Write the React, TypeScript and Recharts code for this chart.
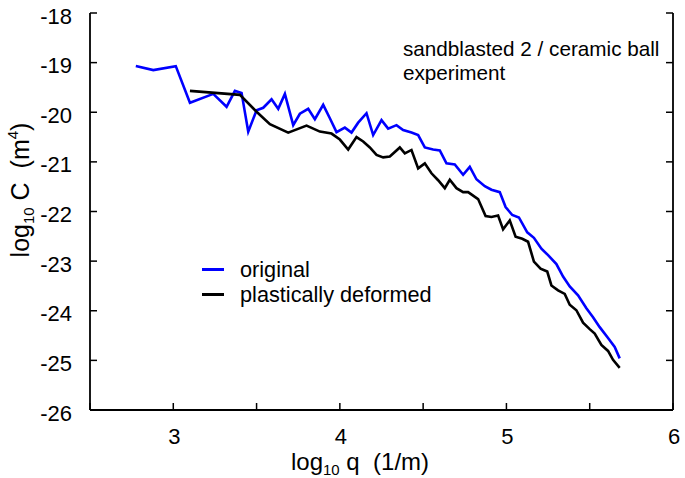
import React from "react";
import { LineChart, Line, XAxis, YAxis } from "recharts";

const originalX = [2.775, 2.88, 3.015, 3.1, 3.24, 3.32, 3.37, 3.41, 3.45, 3.5, 3.54, 3.59, 3.63, 3.67, 3.72, 3.76, 3.81, 3.85, 3.9, 3.94, 3.98, 4.03, 4.07, 4.11, 4.16, 4.2, 4.25, 4.29, 4.34, 4.38, 4.43, 4.47, 4.51, 4.56, 4.6, 4.64, 4.69, 4.74, 4.78, 4.82, 4.87, 4.91, 4.96, 4.995, 5.035, 5.075, 5.125, 5.165, 5.21, 5.25, 5.3, 5.34, 5.38, 5.43, 5.48, 5.52, 5.56, 5.61, 5.65, 5.68];
const originalY = [-19.07, -19.15, -19.07, -19.81, -19.63, -19.89, -19.57, -19.61, -20.39, -19.96, -19.91, -19.74, -19.93, -19.63, -20.26, -20.03, -19.93, -20.14, -19.85, -20.12, -20.4, -20.31, -20.41, -20.21, -20.02, -20.46, -20.16, -20.33, -20.26, -20.36, -20.41, -20.46, -20.71, -20.75, -20.77, -21.03, -21.05, -21.26, -21.1, -21.35, -21.49, -21.56, -21.61, -21.91, -22.07, -22.12, -22.42, -22.53, -22.75, -22.88, -23.06, -23.31, -23.51, -23.69, -23.95, -24.13, -24.33, -24.55, -24.73, -24.96];

const deformedX = [3.1, 3.4, 3.5, 3.58, 3.69, 3.8, 3.88, 3.95, 4.0, 4.05, 4.1, 4.14, 4.18, 4.22, 4.26, 4.3, 4.36, 4.39, 4.43, 4.47, 4.51, 4.55, 4.59, 4.63, 4.66, 4.7, 4.74, 4.77, 4.83, 4.875, 4.91, 4.95, 4.98, 5.02, 5.055, 5.095, 5.13, 5.165, 5.205, 5.245, 5.27, 5.31, 5.35, 5.38, 5.42, 5.46, 5.5, 5.53, 5.57, 5.61, 5.64, 5.68];
const deformedY = [-19.57, -19.65, -19.99, -20.24, -20.41, -20.27, -20.39, -20.43, -20.55, -20.75, -20.5, -20.59, -20.71, -20.86, -20.91, -20.89, -20.71, -20.83, -20.76, -21.13, -21.03, -21.23, -21.37, -21.53, -21.36, -21.53, -21.61, -21.61, -21.75, -22.09, -22.11, -22.08, -22.36, -22.18, -22.51, -22.55, -22.61, -23.01, -23.15, -23.21, -23.49, -23.59, -23.66, -23.88, -23.99, -24.24, -24.37, -24.46, -24.69, -24.81, -24.99, -25.15];

const xTicks = [2.5, 3, 3.5, 4, 4.5, 5, 5.5, 6];
const xLabelTicks = [3, 4, 5, 6];
const yTicks = [-26, -25, -24, -23, -22, -21, -20, -19, -18];

const seriesNames = ["original", "plastically deformed"];
const seriesColors = ["#0000ff", "#000000"];
const annotation = ["sandblasted 2 / ceramic ball", "experiment"];

const originalData = originalX.map((x, i) => ({ x, y: originalY[i] }));
const deformedData = deformedX.map((x, i) => ({ x, y: deformedY[i] }));

const FONT = "'Liberation Sans', Arial, Helvetica, sans-serif";
const TICK_LEN = 7;
const AXIS_W = 1.8;

const BottomTick = (props: any) => {
  const { x, y, payload } = props;
  const v = payload.value;
  return (
    <g>
      <line x1={x} x2={x} y1={y} y2={y - TICK_LEN} stroke="#000" strokeWidth={1.5} />
      {xLabelTicks.includes(v) && (
        <text x={x + 1} y={y + 26} textAnchor="middle" dominantBaseline="central" fontSize={22} fontFamily={FONT} fill="#000">
          {v}
        </text>
      )}
    </g>
  );
};

const TopTick = (props: any) => {
  const { x, y } = props;
  return <line x1={x} x2={x} y1={y} y2={y + TICK_LEN} stroke="#000" strokeWidth={1.5} />;
};

const LeftTick = (props: any) => {
  const { x, y, payload } = props;
  return (
    <g>
      <line x1={x} x2={x + TICK_LEN} y1={y} y2={y} stroke="#000" strokeWidth={1.5} />
      <text x={x - 18} y={y + 3} textAnchor="end" dominantBaseline="central" fontSize={22} fontFamily={FONT} fill="#000">
        {payload.value}
      </text>
    </g>
  );
};

const RightTick = (props: any) => {
  const { x, y } = props;
  return <line x1={x} x2={x - TICK_LEN} y1={y} y2={y} stroke="#000" strokeWidth={1.5} />;
};

const XLabel = (props: any) => {
  const vb = props.viewBox || { x: 90, y: 410, width: 583, height: 68 };
  const cx = vb.x + 270;
  const cy = vb.y + 60;
  return (
    <text x={cx} y={cy} textAnchor="middle" fontSize={24} fontFamily={FONT} fill="#000">
      <tspan>log</tspan>
      <tspan fontSize={15} dy={5}>10</tspan>
      <tspan dy={-5}>{"\u00a0q\u00a0\u00a0(1/m)"}</tspan>
    </text>
  );
};

const YLabel = () => {
  const cx = 29;
  const cy = 190;
  return (
    <text x={cx} y={cy} transform={`rotate(-90, ${cx}, ${cy})`} textAnchor="middle" fontSize={25} fontFamily={FONT} fill="#000">
      <tspan>log</tspan>
      <tspan fontSize={15} dy={5}>10</tspan>
      <tspan dy={-5}>{"\u00a0C\u00a0\u00a0(m"}</tspan>
      <tspan fontSize={15} dy={-11}>4</tspan>
      <tspan dy={11}>)</tspan>
    </text>
  );
};

export default function App() {
  return (
    <div style={{ position: "absolute", left: 0, top: 0, width: 685, height: 478, background: "#fff", fontFamily: FONT }}>
      <LineChart width={685} height={478} margin={{ top: 13, right: 0, bottom: 0, left: 0 }}>
        <XAxis
          xAxisId="bottom"
          type="number"
          dataKey="x"
          domain={[2.5, 6]}
          ticks={xTicks}
          interval={0}
          orientation="bottom"
          height={68}
          tickSize={0}
          tickMargin={0}
          tickLine={false}
          axisLine={{ stroke: "#000", strokeWidth: AXIS_W }}
          tick={<BottomTick />}
          allowDataOverflow
          label={<XLabel />}
        />
        <XAxis
          xAxisId="top"
          type="number"
          dataKey="x"
          domain={[2.5, 6]}
          ticks={xTicks}
          interval={0}
          orientation="top"
          height={0}
          tickSize={0}
          tickMargin={0}
          tickLine={false}
          axisLine={{ stroke: "#000", strokeWidth: AXIS_W }}
          tick={<TopTick />}
          allowDataOverflow
        />
        <YAxis
          yAxisId="left"
          type="number"
          domain={[-26, -18]}
          ticks={yTicks}
          interval={0}
          orientation="left"
          width={90}
          tickSize={0}
          tickMargin={0}
          tickLine={false}
          axisLine={{ stroke: "#000", strokeWidth: AXIS_W }}
          tick={<LeftTick />}
          allowDataOverflow
          label={<YLabel />}
        />
        <YAxis
          yAxisId="right"
          type="number"
          domain={[-26, -18]}
          ticks={yTicks}
          interval={0}
          orientation="right"
          width={12}
          tickSize={0}
          tickMargin={0}
          tickLine={false}
          axisLine={{ stroke: "#000", strokeWidth: AXIS_W }}
          tick={<RightTick />}
          allowDataOverflow
        />
        <Line
          xAxisId="bottom"
          yAxisId="left"
          data={originalData}
          dataKey="y"
          name={seriesNames[0]}
          stroke={seriesColors[0]}
          strokeWidth={2.6}
          dot={false}
          isAnimationActive={false}
          strokeLinejoin="miter"
        />
        <Line
          xAxisId="bottom"
          yAxisId="left"
          data={deformedData}
          dataKey="y"
          name={seriesNames[1]}
          stroke={seriesColors[1]}
          strokeWidth={2.6}
          dot={false}
          isAnimationActive={false}
          strokeLinejoin="miter"
        />
      </LineChart>
      <div style={{ position: "absolute", left: 403, top: 37, fontSize: 20.7, lineHeight: "24px", color: "#000", whiteSpace: "nowrap" }}>
        <div>{annotation[0]}</div>
        <div>{annotation[1]}</div>
      </div>
      <div style={{ position: "absolute", left: 200, top: 257, fontSize: 21.7, lineHeight: "25px", color: "#000", whiteSpace: "nowrap" }}>
        {seriesNames.map((n, i) => (
          <div key={n} style={{ display: "flex", alignItems: "center" }}>
            <span style={{ display: "inline-block", width: 22, height: 3, background: seriesColors[i], marginLeft: 2, marginRight: 16 }} />
            <span>{n}</span>
          </div>
        ))}
      </div>
    </div>
  );
}
